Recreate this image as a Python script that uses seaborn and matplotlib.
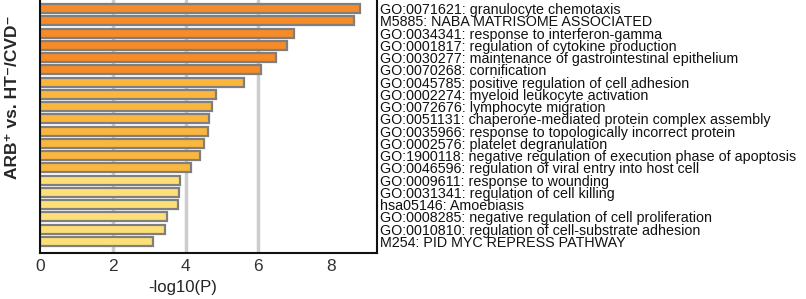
import matplotlib
matplotlib.use('Agg')
import matplotlib.pyplot as plt
import seaborn as sns
import pandas as pd

terms = [
    'GO:0071621: granulocyte chemotaxis',
    'M5885: NABA MATRISOME ASSOCIATED',
    'GO:0034341: response to interferon-gamma',
    'GO:0001817: regulation of cytokine production',
    'GO:0030277: maintenance of gastrointestinal epithelium',
    'GO:0070268: cornification',
    'GO:0045785: positive regulation of cell adhesion',
    'GO:0002274: myeloid leukocyte activation',
    'GO:0072676: lymphocyte migration',
    'GO:0051131: chaperone-mediated protein complex assembly',
    'GO:0035966: response to topologically incorrect protein',
    'GO:0002576: platelet degranulation',
    'GO:1900118: negative regulation of execution phase of apoptosis',
    'GO:0046596: regulation of viral entry into host cell',
    'GO:0009611: response to wounding',
    'GO:0031341: regulation of cell killing',
    'hsa05146: Amoebiasis',
    'GO:0008285: negative regulation of cell proliferation',
    'GO:0010810: regulation of cell-substrate adhesion',
    'M254: PID MYC REPRESS PATHWAY',
]
logp = [8.80, 8.64, 6.98, 6.80, 6.48, 6.08, 5.60, 4.84, 4.73, 4.64,
        4.62, 4.51, 4.40, 4.14, 3.86, 3.83, 3.80, 3.50, 3.45, 3.11]
group = ['high'] * 6 + ['mid'] * 8 + ['low'] * 6
colors = {'high': '#F68B28', 'mid': '#FBB73D', 'low': '#FDDF78'}

df = pd.DataFrame({'term': terms, 'logp': logp, 'group': group})

sns.set_style('white')
plt.rcParams['font.family'] = ['Liberation Sans', 'DejaVu Sans']

fig = plt.figure(figsize=(8.06, 2.99), dpi=100)
ax = fig.add_axes([0.0496, 0.1538, 0.418, 0.856])

for g in [2, 4, 6]:
    ax.axvline(g, color='#CCCCCC', lw=2.5, zorder=0)

sns.barplot(data=df, x='logp', y='term', hue='group', palette=colors,
            saturation=1, dodge=False, legend=False, width=0.74,
            edgecolor='#7F7F7F', linewidth=1.6, ax=ax, zorder=2)

ax.set_xlim(0, 9.26)
ax.set_ylim(19.95, -0.95)
ax.set_xticks([0, 2, 4, 6, 8])
ax.tick_params(axis='x', labelsize=12.5, colors='#333333', length=0, pad=4)
ax.yaxis.tick_right()
ax.tick_params(axis='y', length=0, pad=2, labelsize=10.3, labelcolor='#111111')

for side in ['left', 'bottom', 'right']:
    ax.spines[side].set_visible(True)
    ax.spines[side].set_color('#111111')
    ax.spines[side].set_linewidth(1.5)
ax.spines['top'].set_visible(False)

ax.set_xlabel('-log10(P)', fontsize=12, color='#222222')
ax.xaxis.set_label_coords((183 - 40) / 337, (253 - 280) / 256)
ax.set_ylabel('ARB\u207a vs. HT\u207b/CVD\u207b', fontsize=12.5, fontweight='bold')
ax.yaxis.set_label_position('left')
ax.yaxis.set_label_coords((20 - 40) / 337, (253 - 97) / 256)

fig.savefig('out.png', dpi=100)
